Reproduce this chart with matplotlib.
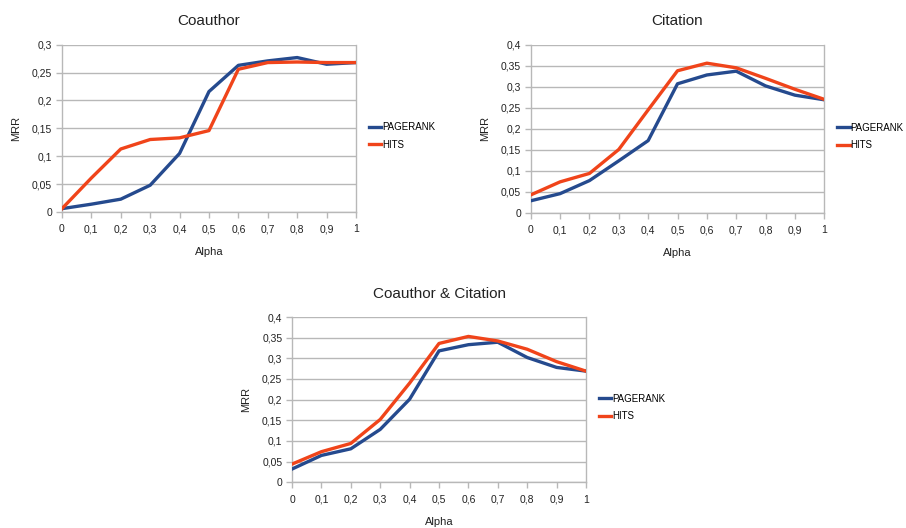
import matplotlib
matplotlib.use("Agg")
import matplotlib.pyplot as plt
from matplotlib.ticker import FuncFormatter, MultipleLocator

plt.rcParams['font.family'] = ['Liberation Sans', 'DejaVu Sans']

alpha = [0, 0.1, 0.2, 0.3, 0.4, 0.5, 0.6, 0.7, 0.8, 0.9, 1.0]

coauthor_pagerank = [0.006, 0.014, 0.023, 0.048, 0.105, 0.216, 0.263, 0.271, 0.277, 0.265, 0.268]
coauthor_hits = [0.006, 0.061, 0.113, 0.130, 0.133, 0.146, 0.256, 0.268, 0.269, 0.268, 0.268]

citation_pagerank = [0.029, 0.046, 0.077, 0.124, 0.172, 0.307, 0.328, 0.337, 0.302, 0.280, 0.269]
citation_hits = [0.043, 0.074, 0.094, 0.151, 0.245, 0.338, 0.356, 0.345, 0.320, 0.294, 0.270]

both_pagerank = [0.032, 0.065, 0.081, 0.128, 0.201, 0.318, 0.333, 0.339, 0.302, 0.278, 0.269]
both_hits = [0.044, 0.074, 0.094, 0.152, 0.240, 0.336, 0.353, 0.342, 0.322, 0.292, 0.269]

titles = ["Coauthor", "Citation", "Coauthor & Citation"]
series_names = ["PAGERANK", "HITS"]
ymaxes = [0.3, 0.4, 0.4]

BLUE = "#254a8e"
ORANGE = "#f0441a"
GRID = "#b8b8b8"
TXT = "#222222"


def fmt(v, pos):
    s = ("%.2f" % v).rstrip("0").rstrip(".")
    return s.replace(".", ",")


fig = plt.figure(figsize=(9.06, 5.28), dpi=100)

positions = [
    [0.0684, 0.5985, 0.3245, 0.3168],
    [0.5858, 0.5966, 0.3240, 0.3188],
    [0.3223, 0.0866, 0.3245, 0.3130],
]
data = [
    (coauthor_pagerank, coauthor_hits),
    (citation_pagerank, citation_hits),
    (both_pagerank, both_hits),
]

for pos, title, ymax, (pr, hi) in zip(positions, titles, ymaxes, data):
    ax = fig.add_axes(pos)
    ax.plot(alpha, pr, color=BLUE, lw=2.4, label=series_names[0], solid_joinstyle='round', zorder=3)
    ax.plot(alpha, hi, color=ORANGE, lw=2.4, label=series_names[1], solid_joinstyle='round', zorder=3)
    ax.set_xlim(0, 1)
    ax.set_ylim(0, ymax)
    ax.xaxis.set_major_locator(MultipleLocator(0.1))
    ax.yaxis.set_major_locator(MultipleLocator(0.05))
    ax.xaxis.set_major_formatter(FuncFormatter(fmt))
    ax.yaxis.set_major_formatter(FuncFormatter(fmt))
    ax.grid(True, axis='y', color=GRID, lw=1.0, zorder=0)
    for s in ['left', 'bottom', 'right', 'top']:
        ax.spines[s].set_color(GRID)
        ax.spines[s].set_linewidth(1.0)
    ax.spines['top'].set_visible(False)
    ax.tick_params(axis='both', colors=GRID, labelcolor=TXT, labelsize=7.5,
                   length=4, width=1.0, direction='out', pad=3)
    ax.tick_params(axis='x', pad=5)
    ax.set_title(title, fontsize=11, color=TXT, pad=14)
    ax.set_xlabel("Alpha", fontsize=8, color=TXT, labelpad=9)
    ax.set_ylabel("MRR", fontsize=8, color=TXT, labelpad=8)
    ax.legend(loc='upper left', bbox_to_anchor=(1.03, 0.56), frameon=False,
              fontsize=7, handlelength=1.3, handletextpad=0.1, labelspacing=0.75,
              borderaxespad=0)

fig.savefig("out.png", dpi=100, facecolor="white")
